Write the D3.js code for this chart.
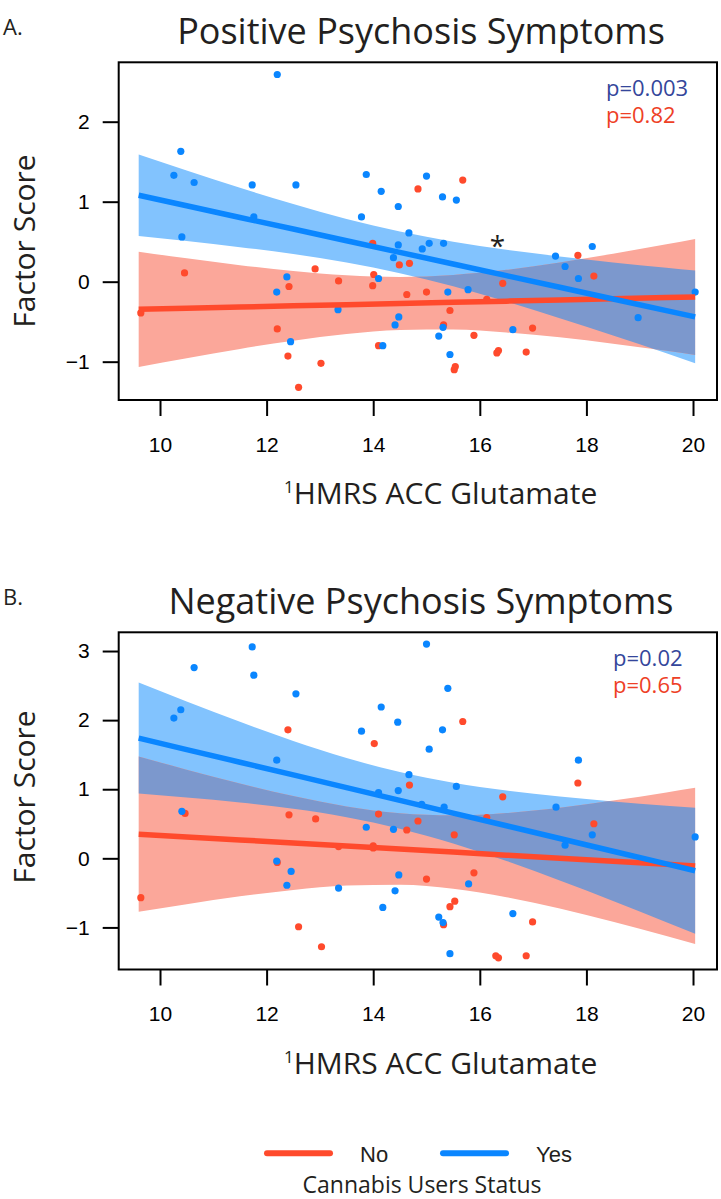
<!DOCTYPE html>
<html>
<head>
<meta charset="utf-8">
<script src="https://cdn.jsdelivr.net/npm/d3@7"></script>
<style>
body { margin: 0; background: #fff; }
text { font-family: "Open Sans", sans-serif; fill: #231f20; }
.axis text { font-family: "Liberation Sans", Arial, sans-serif; font-size: 21px; fill: #000; }
.axis line { stroke: #000; stroke-width: 2px; }
</style>
</head>
<body>
<div id="chart"></div>
<script>
// x grid used for fitted lines and confidence bands
const gridX = [9.6, 10.5, 11.5, 12.5, 13.5, 14.5, 15.5, 16.5, 17.5, 18.5, 19.5, 20.04];
const xTicks = [10, 12, 14, 16, 18, 20];

// Panel A: positive symptoms
const posYes = [[12.20, 2.59], [10.39, 1.63], [10.26, 1.33], [10.64, 1.24], [11.73, 1.21], [12.55, 1.21],
  [13.87, 1.34], [14.15, 1.13], [14.47, 0.94], [13.78, 0.81], [11.76, 0.81], [10.41, 0.56], [14.67, 0.61],
  [14.47, 0.46], [14.38, 0.30], [14.10, 0.04], [12.38, 0.06], [12.19, -0.13], [13.34, -0.35], [14.48, -0.44],
  [14.41, -0.54], [12.45, -0.75], [14.18, -0.80], [15.00, 1.32], [15.30, 1.06], [15.56, 1.02], [15.05, 0.48],
  [15.32, 0.48], [14.92, 0.41], [15.40, -0.13], [15.78, -0.10], [15.31, -0.57], [15.23, -0.68], [15.44, -0.91],
  [16.62, -0.60], [17.42, 0.32], [17.60, 0.19], [17.85, 0.04], [18.11, 0.44], [18.97, -0.45], [20.04, -0.13]];
const posNo = [[9.64, -0.39], [10.46, 0.11], [12.91, 0.16], [13.35, 0.01], [12.42, -0.06], [13.99, -0.05],
  [14.01, 0.09], [13.99, 0.48], [14.49, 0.21], [14.68, 0.23], [14.84, 1.16], [14.63, -0.16], [12.20, -0.59],
  [12.40, -0.93], [13.02, -1.02], [14.10, -0.80], [12.60, -1.32], [15.68, 1.27], [15.00, -0.13], [15.44, -0.36],
  [15.32, -0.54], [15.89, -0.67], [16.13, -0.22], [16.43, -0.02], [16.99, -0.58], [16.32, -0.89], [16.35, -0.86],
  [16.87, -0.88], [15.52, -1.10], [15.54, -1.06], [17.84, 0.33], [18.14, 0.07]];
const posYesFit = [1.080, 0.949, 0.803, 0.658, 0.512, 0.367, 0.221, 0.075, -0.070, -0.216, -0.361, -0.440];
const posYesUpper = [1.590, 1.390, 1.174, 0.970, 0.784, 0.627, 0.500, 0.399, 0.316, 0.241, 0.174, 0.139];
const posYesLower = [0.570, 0.508, 0.432, 0.346, 0.240, 0.107, -0.058, -0.249, -0.456, -0.673, -0.896, -1.019];
const posNoFit = [-0.345, -0.332, -0.317, -0.302, -0.287, -0.272, -0.257, -0.243, -0.228, -0.213, -0.198, -0.190];
const posNoUpper = [0.375, 0.292, 0.206, 0.133, 0.080, 0.060, 0.084, 0.148, 0.240, 0.349, 0.468, 0.535];
const posNoLower = [-1.065, -0.956, -0.840, -0.737, -0.654, -0.604, -0.598, -0.634, -0.696, -0.775, -0.864, -0.915];

// Panel B: negative symptoms
const negYes = [[11.73, 3.06], [10.64, 2.76], [11.76, 2.65], [12.55, 2.38], [10.39, 2.15], [10.26, 2.03],
  [14.15, 2.19], [14.46, 1.97], [13.78, 1.84], [12.19, 1.42], [14.67, 1.21], [14.47, 0.98], [14.10, 0.95],
  [10.41, 0.68], [13.87, 0.45], [14.38, 0.42], [12.19, -0.04], [12.46, -0.19], [12.38, -0.39], [13.35, -0.43],
  [14.48, -0.24], [14.41, -0.47], [14.18, -0.71], [15.00, 3.10], [15.40, 2.46], [15.30, 1.86], [15.05, 1.58],
  [15.56, 1.04], [14.91, 0.78], [15.33, 0.74], [17.43, 0.74], [17.85, 1.42], [18.11, 0.34], [17.60, 0.19],
  [20.04, 0.31], [15.79, -0.37], [15.23, -0.85], [15.31, -0.93], [16.62, -0.80], [15.44, -1.38]];
const negNo = [[9.64, -0.57], [10.47, 0.65], [12.40, 1.86], [14.02, 1.66], [14.68, 1.06], [12.42, 0.63],
  [12.92, 0.57], [14.10, 0.64], [14.63, 0.41], [14.84, 0.54], [13.35, 0.17], [14.00, 0.18], [14.00, 0.15],
  [12.20, -0.06], [12.60, -0.99], [13.03, -1.28], [15.68, 1.98], [17.84, 1.09], [16.43, 0.89], [18.14, 0.50],
  [15.52, 0.34], [16.13, 0.59], [15.00, -0.30], [15.89, -0.21], [15.53, -0.62], [15.44, -0.70], [15.32, -0.96],
  [16.99, -0.92], [16.30, -1.41], [16.35, -1.44], [16.87, -1.41]];
const negYesFit = [1.740, 1.574, 1.391, 1.207, 1.023, 0.839, 0.655, 0.471, 0.287, 0.103, -0.081, -0.180];
const negYesUpper = [2.543, 2.269, 1.975, 1.698, 1.451, 1.249, 1.094, 0.981, 0.895, 0.823, 0.762, 0.732];
const negYesLower = [0.937, 0.879, 0.807, 0.716, 0.595, 0.429, 0.216, -0.039, -0.321, -0.617, -0.924, -1.092];
const negNoFit = [0.350, 0.310, 0.266, 0.222, 0.178, 0.134, 0.090, 0.046, 0.002, -0.042, -0.086, -0.110];
const negNoUpper = [1.473, 1.283, 1.082, 0.901, 0.751, 0.652, 0.622, 0.656, 0.732, 0.835, 0.953, 1.021];
const negNoLower = [-0.773, -0.663, -0.550, -0.457, -0.395, -0.384, -0.442, -0.564, -0.728, -0.919, -1.125, -1.241];

const blue = "#0a86ff", red = "#ff4a2c";
const blueBand = "#82c3fe", redBand = "#fba79a", overlap = "#7c98cd";

const W = 721, H = 1199;
const svg = d3.select("#chart").append("svg")
  .attr("width", W)
  .attr("height", H);

const left = 118.7, right = 717;
const x = d3.scaleLinear().domain([9.225, 20.45]).range([left, right]);

const panels = [
  {id: "A", letter: "A.", title: "Positive Psychosis Symptoms", top: 62.3, bottom: 400,
   domain: [-1.479, 2.7425], yTicks: [-1, 0, 1, 2], yLabelCy: 241,
   yes: posYes, no: posNo, yesFit: posYesFit, yesUp: posYesUpper, yesLo: posYesLower,
   noFit: posNoFit, noUp: posNoUpper, noLo: posNoLower,
   pYes: "p=0.003", pNo: "p=0.82", pX: 606, star: [16.33, 0.52]},
  {id: "B", letter: "B.", title: "Negative Psychosis Symptoms", top: 632.3, bottom: 969.5,
   domain: [-1.609, 3.271], yTicks: [-1, 0, 1, 2, 3], yLabelCy: 797,
   yes: negYes, no: negNo, yesFit: negYesFit, yesUp: negYesUpper, yesLo: negYesLower,
   noFit: negNoFit, noUp: negNoUpper, noLo: negNoLower,
   pYes: "p=0.02", pNo: "p=0.65", pX: 613, star: null}
];

panels.forEach(p => drawPanel(p));

function drawPanel(p) {
  const off = p.top - 62.3;
  const y = d3.scaleLinear().domain(p.domain).range([p.bottom, p.top]);
  const g = svg.append("g");

  const band = d3.area()
    .x((d, i) => x(gridX[i]))
    .y0(d => y(d[0]))
    .y1(d => y(d[1]))
    .curve(d3.curveMonotoneX);
  const fit = d3.line()
    .x((d, i) => x(gridX[i]))
    .y(d => y(d));

  const yesBand = d3.zip(p.yesLo, p.yesUp);
  const noBand = d3.zip(p.noLo, p.noUp);

  g.append("path").attr("d", band(yesBand)).attr("fill", blueBand);
  g.append("path").attr("d", band(noBand)).attr("fill", redBand);

  // darker colour where both bands overlap
  g.append("clipPath").attr("id", "clip" + p.id)
    .append("path").attr("d", band(noBand));
  g.append("path").attr("d", band(yesBand))
    .attr("fill", overlap)
    .attr("clip-path", `url(#clip${p.id})`);

  g.selectAll(".no").data(p.no).enter().append("circle")
    .attr("cx", d => x(d[0])).attr("cy", d => y(d[1])).attr("r", 3.6).attr("fill", red);
  g.selectAll(".yes").data(p.yes).enter().append("circle")
    .attr("cx", d => x(d[0])).attr("cy", d => y(d[1])).attr("r", 3.6).attr("fill", blue);

  g.append("path").attr("d", fit(p.noFit)).attr("fill", "none")
    .attr("stroke", red).attr("stroke-width", 5.5);
  g.append("path").attr("d", fit(p.yesFit)).attr("fill", "none")
    .attr("stroke", blue).attr("stroke-width", 5.5);

  // axes
  const xa = g.append("g").attr("class", "axis")
    .attr("transform", `translate(0,${p.bottom})`)
    .call(d3.axisBottom(x).tickValues(xTicks).tickSize(16).tickPadding(21));
  xa.select(".domain").remove();
  const ya = g.append("g").attr("class", "axis")
    .attr("transform", `translate(${left},0)`)
    .call(d3.axisLeft(y).tickValues(p.yTicks).tickFormat(d3.format("d")).tickSize(16).tickPadding(13));
  ya.select(".domain").remove();

  g.append("rect")
    .attr("x", left).attr("y", p.top)
    .attr("width", right - left).attr("height", p.bottom - p.top)
    .attr("fill", "none").attr("stroke", "#000").attr("stroke-width", 2);

  // texts
  g.append("text").attr("x", 3).attr("y", 35 + off)
    .attr("font-size", 22).text(p.letter);
  g.append("text").attr("x", 421).attr("y", 44 + off)
    .attr("text-anchor", "middle").attr("font-size", 36).text(p.title);
  g.append("text")
    .attr("transform", `translate(35,${p.yLabelCy}) rotate(-90)`)
    .attr("text-anchor", "middle").attr("font-size", 30).text("Factor Score");
  const xt = g.append("text").attr("x", 284).attr("y", 504 + off).attr("font-size", 30);
  xt.append("tspan").attr("font-size", 17).attr("dy", -11).text("1");
  xt.append("tspan").attr("dy", 11).text("HMRS ACC Glutamate");

  g.append("text").attr("x", p.pX).attr("y", 96 + off)
    .attr("font-size", 22).style("fill", "#34469b").text(p.pYes);
  g.append("text").attr("x", p.pX).attr("y", 123 + off)
    .attr("font-size", 22).style("fill", "#ee4026").text(p.pNo);

  if (p.star) {
    g.append("text").attr("x", x(p.star[0])).attr("y", y(p.star[1]) + 16)
      .attr("text-anchor", "middle").attr("font-size", 28).text("*");
  }
}

// legend
const legendKeys = ["No", "Yes"];
const legendColors = [red, blue];
const leg = svg.append("g");
legendKeys.forEach((k, i) => {
  const x0 = 267 + i * 176;
  leg.append("line")
    .attr("x1", x0).attr("x2", x0 + 63)
    .attr("y1", 1153.3).attr("y2", 1153.3)
    .attr("stroke", legendColors[i]).attr("stroke-width", 6).attr("stroke-linecap", "round");
  leg.append("text")
    .attr("x", x0 + 93).attr("y", 1161.7)
    .style("font-family", "'Liberation Sans', Arial, sans-serif")
    .attr("font-size", 22).text(k);
});
leg.append("text").attr("x", 422).attr("y", 1193)
  .attr("text-anchor", "middle").attr("font-size", 23).text("Cannabis Users Status");
</script>
</body>
</html>
